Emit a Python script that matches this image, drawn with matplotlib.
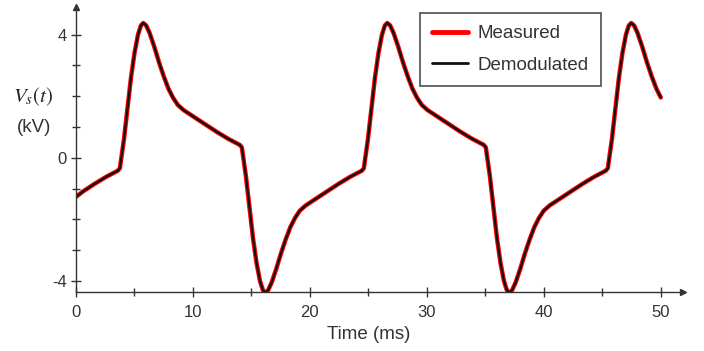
import matplotlib
matplotlib.use("Agg")
import matplotlib.pyplot as plt

# Time (ms) and voltage (kV)
time_ms = [
    0.00, 0.57, 1.57, 2.57, 3.57, 3.75,
    4.10, 4.40, 4.70, 5.00, 5.30, 5.55, 5.75, 6.00, 6.30, 6.70, 7.10, 7.50, 7.90,
    8.30, 8.70, 9.20, 10.00, 11.00, 12.00, 13.00, 14.00, 14.18,
    14.53, 14.83, 15.13, 15.43, 15.73, 15.98, 16.18, 16.43, 16.73, 17.13, 17.53,
    17.93, 18.33, 18.73, 19.13, 19.63, 20.43, 21.43, 22.43, 23.43, 24.43, 24.61,
    24.96, 25.26, 25.56, 25.86, 26.16, 26.41, 26.61, 26.86, 27.16, 27.56, 27.96,
    28.36, 28.76, 29.16, 29.56, 30.06, 30.86, 31.86, 32.86, 33.86, 34.86, 35.04,
    35.39, 35.69, 35.99, 36.29, 36.59, 36.84, 37.04, 37.29, 37.59, 37.99, 38.39,
    38.79, 39.19, 39.59, 39.99, 40.49, 41.29, 42.29, 43.29, 44.29, 45.29, 45.47,
    45.82, 46.12, 46.42, 46.72, 47.02, 47.27, 47.47, 47.72, 48.02, 48.42, 48.82,
    49.22, 49.62, 50.00,
]
voltage_kv = [
    -1.27, -1.10, -0.85, -0.62, -0.42, -0.34,
    0.60, 1.60, 2.60, 3.40, 4.00, 4.30, 4.38, 4.30, 4.05, 3.60, 3.10, 2.65, 2.25,
    1.95, 1.72, 1.55, 1.35, 1.10, 0.85, 0.62, 0.42, 0.34,
    -0.60, -1.60, -2.60, -3.40, -4.00, -4.30, -4.38, -4.30, -4.05, -3.60, -3.10,
    -2.65, -2.25, -1.95, -1.72, -1.55, -1.35, -1.10, -0.85, -0.62, -0.42, -0.34,
    0.60, 1.60, 2.60, 3.40, 4.00, 4.30, 4.38, 4.30, 4.05, 3.60, 3.10,
    2.65, 2.25, 1.95, 1.72, 1.55, 1.35, 1.10, 0.85, 0.62, 0.42, 0.34,
    -0.60, -1.60, -2.60, -3.40, -4.00, -4.30, -4.38, -4.30, -4.05, -3.60, -3.10,
    -2.65, -2.25, -1.95, -1.72, -1.55, -1.35, -1.10, -0.85, -0.62, -0.42, -0.34,
    0.60, 1.60, 2.60, 3.40, 4.00, 4.30, 4.38, 4.30, 4.05, 3.60, 3.10,
    2.65, 2.25, 1.96,
]
series_labels = ["Measured", "Demodulated"]
x_major = [0, 10, 20, 30, 40, 50]
x_minor = [5, 15, 25, 35, 45]
y_major = [-4, 0, 4]
y_minor = [-3, -2, -1, 1, 2, 3]

plt.rcParams['font.family'] = ['Liberation Sans', 'DejaVu Sans']
plt.rcParams['mathtext.fontset'] = 'stix'
plt.rcParams['axes.unicode_minus'] = False

W, H = 704, 351
fig = plt.figure(figsize=(W / 100, H / 100), dpi=100)
ax = fig.add_axes([76 / W, 1 - 292 / H, (683 - 76) / W, (292 - 7) / H])

ax.plot(time_ms, voltage_kv, color='#ff0000', lw=3.2, solid_capstyle='round',
        solid_joinstyle='round', label=series_labels[0])
ax.plot(time_ms, voltage_kv, color='#111111', lw=1.6, solid_capstyle='round',
        solid_joinstyle='round', label=series_labels[1])

ax.set_xlim(0, 51.9)
ax.set_ylim(-4.36, 4.9)

for s in ['top', 'right']:
    ax.spines[s].set_visible(False)
for s in ['left', 'bottom']:
    ax.spines[s].set_color('#333333')
    ax.spines[s].set_linewidth(1.0)

ax.plot(1, 0, marker='>', color='#333333', ms=4, transform=ax.transAxes, clip_on=False)
ax.plot(0, 1, marker='^', color='#333333', ms=4, transform=ax.transAxes, clip_on=False)

ax.set_xticks(x_major)
ax.set_xticks(x_minor, minor=True)
ax.set_yticks(y_major)
ax.set_yticks(y_minor, minor=True)
ax.tick_params(axis='both', which='both', direction='inout', color='#333333',
               labelcolor='#333333', labelsize=12)
ax.tick_params(axis='both', which='major', length=7, width=1)
ax.tick_params(axis='both', which='minor', length=6, width=1)
ax.tick_params(axis='x', which='major', pad=6)
ax.tick_params(axis='y', which='major', pad=3)

ax.set_xlabel('Time (ms)', fontsize=13.5, color='#333333')
ax.xaxis.set_label_coords(25 / 51.9, -0.118)

fig.text(33 / W, 1 - 97 / H, r'$V_s(t)$', fontsize=15, ha='center', va='center',
         color='#222222')
fig.text(34 / W, 1 - 128 / H, '(kV)', fontsize=13.5, ha='center', va='center',
         color='#333333')

leg = ax.legend(loc='upper left', bbox_to_anchor=((420 - 76) / (683 - 76), 1 - (13 - 7) / (292 - 7)),
                fontsize=13.5, frameon=True, fancybox=False, handlelength=1.9,
                handletextpad=0.5, borderpad=0.65, labelspacing=0.75,
                borderaxespad=0)
leg.get_frame().set_edgecolor('#333333')
leg.get_frame().set_linewidth(1.3)
for t in leg.get_texts():
    t.set_color('#333333')
leg.get_lines()[0].set_linewidth(3.5)
leg.get_lines()[1].set_linewidth(2.0)

fig.savefig('out.png', dpi=100)
